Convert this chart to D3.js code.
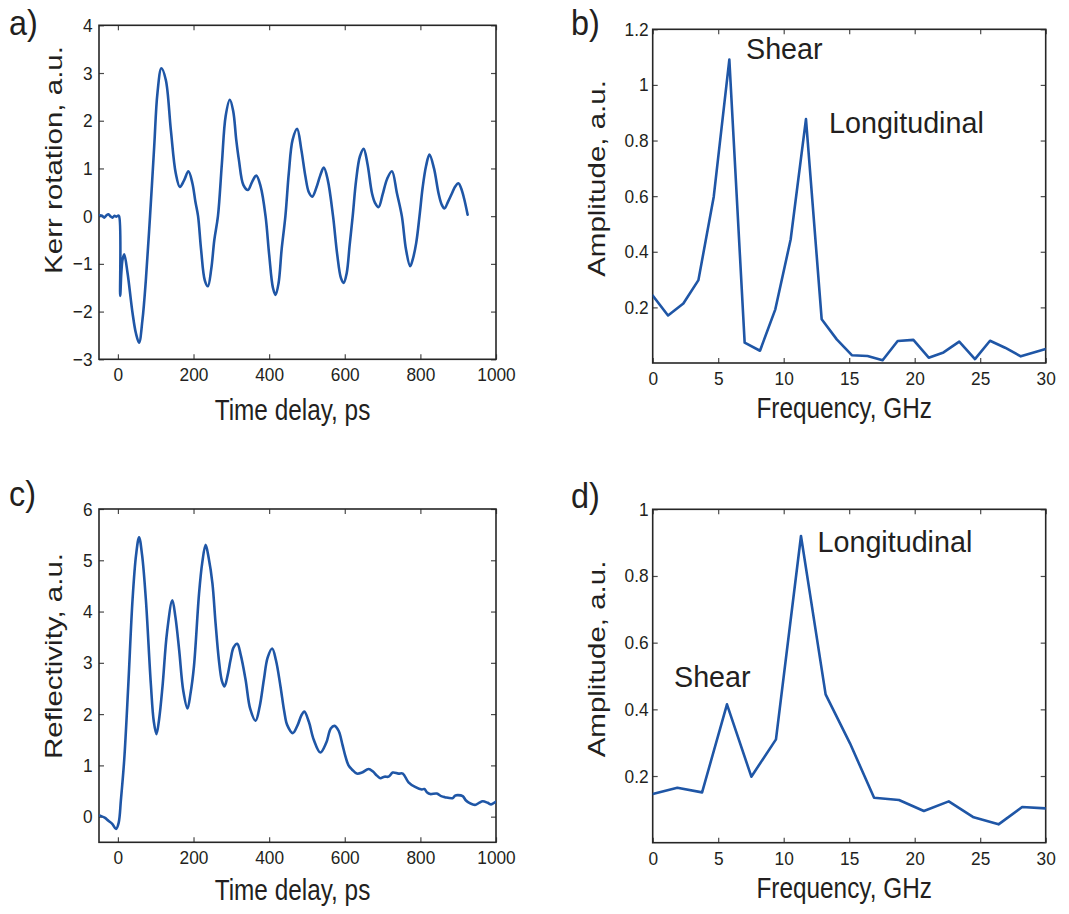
<!DOCTYPE html>
<html><head><meta charset="utf-8">
<script src="https://cdn.jsdelivr.net/npm/d3@7"></script>
<style>
body{margin:0;background:#fff;}
svg{display:block;}
text{font-family:"Liberation Sans",Arial,Helvetica,sans-serif;fill:#231f20;}
</style>
</head><body>
<svg id="chart" width="1069" height="914"></svg>
<script>
// ---------------- DATA ----------------
// a) Kerr rotation vs time delay [ps, a.u.]
const kerrData = [
[-48,0.02],[-42,0.01],[-36,-0.03],[-30,0.02],[-25,0.04],[-20,0.0],[-14,-0.03],[-9,0.01],[-4,-0.01],[0,0.01],[3,0.0],
[6,-1.67],[9,-1.2],[12.3,-0.91],[16.7,-0.80],[25.5,-1.19],[38.7,-2.03],[47.5,-2.45],[56,-2.65],[65,-2.17],[74,-1.33],
[85,0.0],[96,1.46],[104.6,2.58],[115,3.10],[126.6,2.86],[140,1.81],[153,0.90],[164,0.61],[175,0.75],[186.5,0.94],
[197,0.69],[205,0.3],[212,0.0],[220,-0.7],[230,-1.35],[238,-1.47],[247,-1.1],[255,-0.5],[264.6,0.0],[275,1.1],
[285,2.1],[296,2.44],[305,2.2],[313,1.6],[320,1.18],[332,0.65],[344,0.55],[355,0.72],[366,0.85],[377.6,0.62],
[390.5,0.0],[400,-0.8],[410,-1.5],[417,-1.65],[425,-1.4],[433,-0.7],[443,0.0],[452,0.9],[462,1.6],[474,1.83],
[485,1.4],[496,0.83],[505,0.5],[514,0.41],[525,0.6],[535,0.85],[544.5,1.02],[555,0.76],[569,0.0],[580,-0.8],
[590,-1.3],[597,-1.40],[605,-1.2],[613,-0.6],[621,0.0],[630,0.75],[640,1.25],[650,1.41],[660,1.1],[672,0.48],
[680,0.28],[689.6,0.19],[700,0.45],[712,0.78],[724.7,0.94],[738,0.48],[751,0.0],[762,-0.7],[773,-1.05],[780,-0.9],
[789,-0.56],[797.7,0.0],[806,0.6],[815,1.05],[824,1.29],[836,1.0],[848,0.48],[856,0.25],[863.6,0.16],[873,0.3],
[883,0.47],[892,0.62],[900.6,0.69],[908,0.58],[915.6,0.37],[925,0.03]
];

// b) Fourier amplitude of Kerr signal
const freqB = [0,1.17,2.34,3.49,4.66,5.85,7.02,8.19,9.36,10.53,11.7,12.9,14.05,15.2,16.4,17.55,18.7,19.9,21.07,22.2,23.4,24.6,25.75,26.9,28.1,30];
const ampB  = [0.243,0.171,0.214,0.298,0.598,1.091,0.073,0.044,0.193,0.444,0.877,0.157,0.085,0.028,0.025,0.010,0.079,0.083,0.019,0.038,0.077,0.014,0.080,0.055,0.024,0.050];

// c) Reflectivity vs time delay [ps, a.u.]
const reflData = [
[-47,0.02],[-35,-0.02],[-25,-0.08],[-15,-0.14],[-5,-0.24],[2,-0.12],[8,0.33],[16.7,1.11],[27.3,2.54],[38.7,4.23],
[48,5.1],[56,5.45],[64,5.1],[74,4.23],[87,2.60],[95,1.85],[102,1.61],[109,1.9],[118,2.54],[130,3.6],[144,4.22],
[152,3.9],[162,3.25],[173,2.45],[184,2.11],[192,2.4],[201,2.92],[214.6,4.35],[223,4.95],[232,5.30],[240,5.05],
[250,4.55],[258,3.8],[267,3.06],[275,2.65],[282,2.54],[290,2.75],[298,3.06],[306,3.3],[315.7,3.37],[325,3.15],
[337.7,2.67],[350,2.1],[364,1.87],[375,2.15],[386,2.67],[396,3.1],[408,3.28],[418,3.05],[430,2.54],[440,2.05],
[447.6,1.79],[462.6,1.63],[475,1.78],[485,1.97],[493,2.05],[505,1.85],[518,1.50],[535.6,1.25],[551,1.44],[563,1.72],
[573,1.77],[584,1.67],[594,1.4],[601.6,1.18],[610,1.0],[619,0.92],[632,0.84],[645.6,0.86],[663,0.93],[674.6,0.88],
[685,0.8],[694,0.75],[705,0.78],[716,0.78],[727,0.86],[742,0.84],[753.6,0.84],[768.6,0.67],[786,0.58],[804,0.53],
[810.6,0.54],[818,0.47],[826,0.44],[843.5,0.45],[855,0.40],[865,0.38],[885,0.36],[892,0.41],[899,0.42],[912,0.40],
[920,0.32],[927,0.28],[944.6,0.23],[955,0.27],[965,0.30],[978,0.27],[987,0.24],[997,0.28],[1000,0.29]
];

// d) Fourier amplitude of reflectivity signal
const freqD = [0,1.88,3.77,5.67,7.53,9.41,11.32,13.2,15.06,16.9,18.8,20.7,22.6,24.5,26.4,28.2,30];
const ampD  = [0.146,0.165,0.151,0.415,0.198,0.310,0.920,0.445,0.298,0.135,0.128,0.095,0.124,0.076,0.055,0.107,0.103];

// tick values
const timeTicks = [0,200,400,600,800,1000];
const freqTicks = [0,5,10,15,20,25,30];
const kerrTicks = [-3,-2,-1,0,1,2,3,4];
const reflTicks = [0,1,2,3,4,5,6];
const ampTicksB = [0.2,0.4,0.6,0.8,1,1.2];
const ampTicksD = [0.2,0.4,0.6,0.8,1];

// ---------------- DRAWING ----------------
const svg = d3.select("#chart");
svg.append("rect").attr("width",1069).attr("height",914).attr("fill","#fff");
const LINE = "#1f56a6";
const SX = 0.84;   // horizontal glyph compression of the original figure

function fmtNum(v){ const s = String(+v.toFixed(2)); return s.replace("-", "\u2212"); }

function addText(g, x, y, str, size, anchor, sx, rot){
  const t = g.append("text").attr("font-size", size).attr("text-anchor", anchor).text(str);
  if (rot) t.attr("transform", `translate(${x},${y}) rotate(-90) scale(1,${sx})`);
  else t.attr("transform", `translate(${x},${y}) scale(${sx},1)`);
  return t;
}

let clipId = 0;
function panel(o){
  const [L,T,R,B] = o.box;
  const g = svg.append("g");
  const x = d3.scaleLinear().domain(o.xDomain).range([L,R]);
  const y = d3.scaleLinear().domain(o.yDomain).range([B,T]);

  const id = "clip" + (clipId++);
  g.append("clipPath").attr("id", id).append("rect")
    .attr("x", L).attr("y", T).attr("width", R-L).attr("height", B-T);

  const tickLen = 5;
  const styleAxis = sel => {
    sel.select(".domain").remove();
    sel.selectAll(".tick line").attr("stroke","#4a4a4a").attr("stroke-width",1.2);
  };
  // bottom
  const bx = g.append("g").attr("transform",`translate(0,${B})`)
    .call(d3.axisBottom(x).tickValues(o.xTicks).tickSizeInner(-tickLen).tickSizeOuter(0).tickPadding(8.5).tickFormat(fmtNum))
    .call(styleAxis);
  bx.selectAll(".tick text").attr("font-size",18.8).attr("fill","#231f20").attr("font-family",null)
    .attr("transform","scale(0.92,1)");
  // top
  g.append("g").attr("transform",`translate(0,${T})`)
    .call(d3.axisTop(x).tickValues(o.xTicks).tickSizeInner(-tickLen).tickSizeOuter(0).tickFormat(""))
    .call(styleAxis);
  // left
  const ly = g.append("g").attr("transform",`translate(${L},0)`)
    .call(d3.axisLeft(y).tickValues(o.yTicks).tickSizeInner(-tickLen).tickSizeOuter(0).tickPadding(o.yPad).tickFormat(fmtNum))
    .call(styleAxis);
  ly.selectAll(".tick text").attr("font-size",18.8).attr("fill","#231f20").attr("font-family",null)
    .attr("transform","scale(0.92,1)");
  // right
  g.append("g").attr("transform",`translate(${R},0)`)
    .call(d3.axisRight(y).tickValues(o.yTicks).tickSizeInner(-tickLen).tickSizeOuter(0).tickFormat(""))
    .call(styleAxis);

  // frame
  g.append("rect").attr("x",L).attr("y",T).attr("width",R-L).attr("height",B-T)
    .attr("fill","none").attr("stroke","#262626").attr("stroke-width",1.6);

  // data line
  const line = d3.line().x(d=>x(d[0])).y(d=>y(d[1])).curve(o.curve);
  g.append("path").datum(o.data).attr("clip-path",`url(#${id})`)
    .attr("d", line).attr("fill","none").attr("stroke",LINE).attr("stroke-width",2.6)
    .attr("stroke-linejoin","round").attr("stroke-linecap","round");

  // labels
  addText(g, (L+R)/2 - 5, o.xLabelY, o.xLabel, 29, "middle", SX, false);
  addText(g, o.yLabelX, o.yLabelC, o.yLabel, 29.5, "middle", SX, true);
  addText(g, o.letter[1], o.letter[2], o.letter[0], 36, "start", 0.9, false);
  (o.notes||[]).forEach(n => addText(g, n[1], n[2], n[0], 29, "start", 0.99, false));
}

panel({box:[99,25.3,496,359.3], xDomain:[-50,1000], yDomain:[-3,4], xTicks:timeTicks, yTicks:kerrTicks, yPad:7,
  data:kerrData, curve:d3.curveCatmullRom.alpha(0.5),
  xLabel:"Time delay, ps", xLabelY:420, yLabel:"Kerr rotation, a.u.", yLabelX:62, yLabelC:160, letter:["a)",9,35]});

panel({box:[652.7,29.3,1045.7,363], xDomain:[0,30], yDomain:[0,1.2], xTicks:freqTicks, yTicks:ampTicksB, yPad:4.5,
  data:freqB.map((f,i)=>[f,ampB[i]]), curve:d3.curveLinear,
  xLabel:"Frequency, GHz", xLabelY:418, yLabel:"Amplitude, a.u.", yLabelX:605, yLabelC:178.5, letter:["b)",571,35],
  notes:[["Shear",746,59],["Longitudinal",829,132.5]]});

panel({box:[99,509,496,842.3], xDomain:[-50,1000], yDomain:[-0.5,6], xTicks:timeTicks, yTicks:reflTicks, yPad:7,
  data:reflData, curve:d3.curveCatmullRom.alpha(0.5),
  xLabel:"Time delay, ps", xLabelY:900, yLabel:"Reflectivity, a.u.", yLabelX:62, yLabelC:656, letter:["c)",9,506]});

panel({box:[652.7,509.3,1045.7,842.7], xDomain:[0,30], yDomain:[0,1], xTicks:freqTicks, yTicks:ampTicksD, yPad:4.5,
  data:freqD.map((f,i)=>[f,ampD[i]]), curve:d3.curveLinear,
  xLabel:"Frequency, GHz", xLabelY:898, yLabel:"Amplitude, a.u.", yLabelX:605, yLabelC:659, letter:["d)",571,507.5],
  notes:[["Longitudinal",817.5,551.5],["Shear",674,687]]});
</script>
</body></html>
